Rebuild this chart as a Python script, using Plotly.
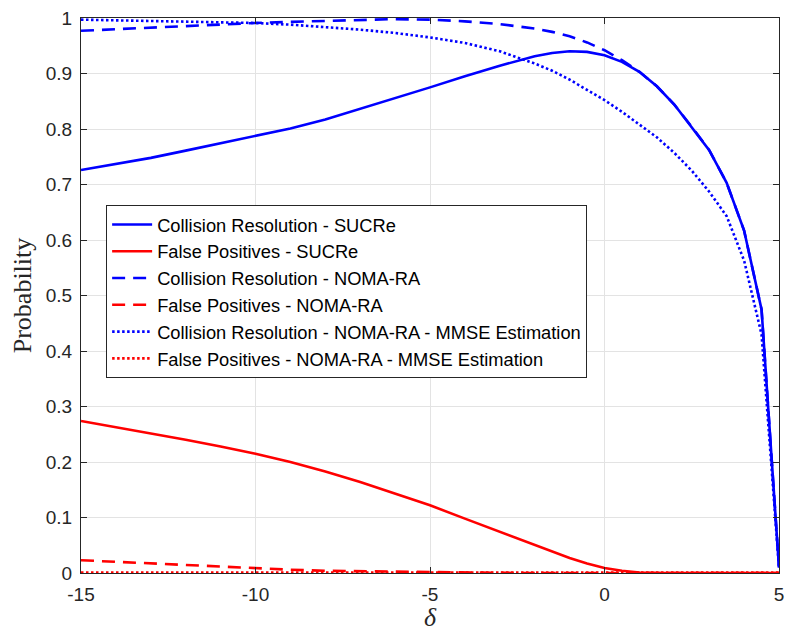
import plotly.graph_objects as go

delta = [-15, -14, -13, -12, -11, -10, -9, -8, -7, -6, -5, -4, -3, -2, -1.5, -1, -0.5,
         0, 0.5, 1, 1.5, 2, 2.5, 3, 3.5, 4, 4.5, 5]

cr_sucre = [0.726, 0.737, 0.748, 0.761, 0.774, 0.787, 0.801, 0.817, 0.836, 0.856, 0.875,
            0.895, 0.914, 0.931, 0.937, 0.940, 0.939, 0.933, 0.921, 0.903, 0.877, 0.844,
            0.804, 0.762, 0.703, 0.617, 0.475, 0.01]
fp_sucre = [0.274, 0.263, 0.252, 0.240, 0.228, 0.215, 0.200, 0.183, 0.164, 0.143, 0.122,
            0.098, 0.074, 0.050, 0.038, 0.027, 0.017, 0.009, 0.004, 0.001, 0, 0, 0, 0, 0,
            0, 0, 0]
cr_noma = [0.977, 0.980, 0.983, 0.986, 0.989, 0.991, 0.993, 0.995, 0.997, 0.998, 0.997,
           0.994, 0.989, 0.981, 0.975, 0.967, 0.956, 0.942, 0.924, 0.903, 0.877, 0.844,
           0.804, 0.762, 0.703, 0.617, 0.475, 0.01]
fp_noma = [0.023, 0.020, 0.017, 0.014, 0.011, 0.009, 0.006, 0.004, 0.003, 0.002, 0.001,
           0.0005, 0.0002, 0, 0, 0, 0, 0, 0, 0, 0, 0, 0, 0, 0, 0, 0, 0]
cr_mmse = [0.997, 0.996, 0.995, 0.994, 0.993, 0.991, 0.988, 0.984, 0.979, 0.973, 0.965,
           0.955, 0.940, 0.918, 0.905, 0.889, 0.871, 0.852, 0.831, 0.808, 0.785, 0.757,
           0.725, 0.687, 0.643, 0.563, 0.43, 0.01]
fp_mmse = [0.001] * len(delta)

names = ["Collision Resolution - SUCRe", "False Positives - SUCRe",
         "Collision Resolution - NOMA-RA", "False Positives - NOMA-RA",
         "Collision Resolution - NOMA-RA - MMSE Estimation",
         "False Positives - NOMA-RA - MMSE Estimation"]
series = [cr_sucre, fp_sucre, cr_noma, fp_noma, cr_mmse, fp_mmse]
colors = ["#0000ff", "#ff0000", "#0000ff", "#ff0000", "#0000ff", "#ff0000"]
dashes = ["solid", "solid", "13px,8px", "13px,8px", "2.5px,2.5px", "2.5px,2.5px"]

fig = go.Figure()
for n, s, c, d in zip(names, series, colors, dashes):
    fig.add_trace(go.Scatter(x=delta, y=s, mode="lines", name=n,
                             line=dict(color=c, width=2.6, dash=d)))

axis_common = dict(showgrid=True, gridcolor="#e3e3e3", gridwidth=1,
                   showline=True, linecolor="#262626", linewidth=1, mirror="ticks",
                   ticks="inside", ticklen=6, tickcolor="#262626", zeroline=False,
                   tickfont=dict(family="Liberation Sans, Arial", size=19, color="#262626"))

fig.update_xaxes(range=[-15, 5], tickvals=[-15, -10, -5, 0, 5],
                 ticktext=["-15", "-10", "-5", "0", "5"], ticklabelstandoff=4,
                 title=dict(text="<i>δ</i>", standoff=2,
                            font=dict(family="Liberation Serif, Times New Roman", size=26,
                                      color="#262626")),
                 **axis_common)
fig.update_yaxes(range=[0, 1], tickvals=[0, 0.1, 0.2, 0.3, 0.4, 0.5, 0.6, 0.7, 0.8, 0.9, 1],
                 ticktext=["0", "0.1", "0.2", "0.3", "0.4", "0.5", "0.6", "0.7", "0.8", "0.9", "1"],
                 ticklabelstandoff=4,
                 title=dict(text="Probability", standoff=6,
                            font=dict(family="Liberation Serif, Times New Roman", size=26,
                                      color="#262626")),
                 **axis_common)

fig.update_layout(
    width=790, height=632,
    margin=dict(l=81, r=6, t=18, b=59),
    paper_bgcolor="white", plot_bgcolor="white",
    legend=dict(x=0.036, y=0.663, xanchor="left", yanchor="top",
                bgcolor="white", bordercolor="#262626", borderwidth=1,
                font=dict(family="Liberation Sans, Arial", size=18.3, color="black"),
                tracegroupgap=0, itemwidth=40),
    showlegend=True,
)

fig.write_html("out.html")
